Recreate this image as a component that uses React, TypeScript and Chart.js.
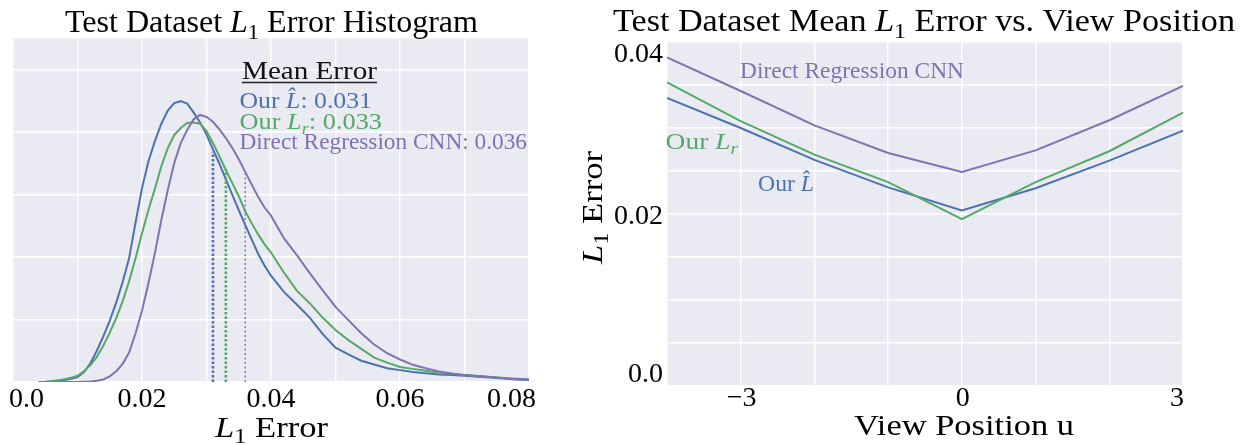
import React, { useEffect, useRef } from "react";
import { Chart, registerables } from "chart.js";

Chart.register(...registerables);

// ---------- colours ----------
const BLUE = "#4C72B0";
const GREEN = "#55A868";
const PURPLE = "#8172B2";
const PANEL_BG = "#EAEAF2";
const FAMILY = '"Liberation Serif", "DejaVu Serif", serif';

// ---------- left panel data (histogram curves) ----------
const errorX = [
  0.004, 0.005, 0.006, 0.007, 0.008, 0.009, 0.01, 0.011, 0.012, 0.013,
  0.014, 0.015, 0.016, 0.017, 0.018, 0.019, 0.02, 0.021, 0.022, 0.023,
  0.024, 0.025, 0.026, 0.027, 0.028, 0.029, 0.03, 0.031, 0.032, 0.033,
  0.034, 0.035, 0.036, 0.037, 0.038, 0.039, 0.04, 0.042, 0.044, 0.046,
  0.048, 0.05, 0.052, 0.054, 0.056, 0.058, 0.06, 0.062, 0.064, 0.066,
  0.068, 0.07, 0.072, 0.074, 0.076, 0.078, 0.08,
];
const densityOurLhat = [
  0, 0, 0.05, 0.15, 0.3, 0.5, 0.8, 1.6, 3.0, 5.0,
  7.3, 9.8, 12.7, 16.0, 19.8, 25.5, 31.0, 35.3, 38.5, 41.3,
  43.4, 44.6, 44.9, 44.5, 43.1, 41.5, 39.6, 37.2, 34.9, 32.4,
  29.9, 27.5, 25.1, 22.8, 20.5, 18.6, 17.0, 14.4, 12.4, 10.3,
  7.7, 5.5, 4.4, 3.4, 2.8, 2.2, 1.9, 1.6, 1.4, 1.2,
  1.1, 1.0, 0.85, 0.7, 0.55, 0.4, 0.3,
];
const densityOurLr = [
  0, 0.05, 0.15, 0.3, 0.45, 0.7, 1.0, 1.7, 2.7, 4.0,
  5.8, 7.9, 10.2, 12.9, 16.1, 19.8, 23.8, 27.5, 30.9, 34.5,
  37.4, 39.5, 40.6, 41.4, 41.5, 41.3, 40.1, 38.2, 36.1, 33.9,
  31.8, 29.7, 27.3, 25.4, 23.6, 22.0, 20.7, 17.5, 14.6, 12.6,
  10.3, 8.3, 6.7, 5.3, 3.9, 3.1, 2.4, 2.1, 1.8, 1.5,
  1.3, 1.1, 0.95, 0.8, 0.65, 0.5, 0.4,
];
const densityDirectCNN = [
  0, 0, 0, 0, 0, 0, 0, 0.05, 0.1, 0.2,
  0.4, 0.9, 1.7, 2.9, 4.7, 7.8, 11.4, 15.8, 20.6, 25.9,
  30.7, 35.0, 38.2, 40.3, 42.0, 42.7, 42.4, 41.6, 40.4, 39.0,
  37.4, 35.6, 33.6, 31.6, 29.6, 27.9, 26.6, 23.0, 20.3, 17.4,
  14.7, 12.0, 9.9, 7.8, 6.0, 4.6, 3.6, 2.75, 2.2, 1.7,
  1.35, 1.1, 0.95, 0.8, 0.65, 0.5, 0.4,
];
const meanErrors = [0.031, 0.033, 0.036];
const meanLineTops = [36.8, 34.0, 33.6];
const meanErrorLabels = ["0.031", "0.033", "0.036"];
const histXTicks = [0, 0.02, 0.04, 0.06, 0.08];
const histXTickLabels = ["0.0", "0.02", "0.04", "0.06", "0.08"];

// ---------- right panel data ----------
const viewPositions = [-4, -3, -2, -1, 0, 1, 2, 3];
const viewDirectCNN = [0.0382, 0.0343, 0.0303, 0.0271, 0.0249, 0.0274, 0.0309, 0.0349];
const viewOurLr = [0.0353, 0.0308, 0.0269, 0.0237, 0.0194, 0.0237, 0.0273, 0.0318];
const viewOurLhat = [0.0335, 0.03, 0.0263, 0.0231, 0.0204, 0.023, 0.0262, 0.0297];
const viewXTicks = [-3, 0, 3];
const viewXTickLabels = ["\u22123", "0", "3"];
const viewYTicks = [0, 0.02, 0.04];
const viewYTickLabels = ["0.0", "0.02", "0.04"];

// ---------- rich text helper ----------
type Seg = { t: string; it?: boolean; sub?: boolean };

function fontFor(seg: Seg, size: number) {
  const s = seg.sub ? size * 0.7 : size;
  return `${seg.it ? "italic " : ""}${s}px ${FAMILY}`;
}

function drawRich(
  ctx: CanvasRenderingContext2D,
  segs: Seg[],
  x: number,
  y: number,
  size: number,
  color: string,
  align: "left" | "center" | "right",
  targetWidth?: number
) {
  let w = 0;
  for (const s of segs) {
    ctx.font = fontFor(s, size);
    w += ctx.measureText(s.t).width;
  }
  const sx = targetWidth ? targetWidth / w : 1;
  const total = w * sx;
  const start = align === "left" ? x : align === "right" ? x - total : x - total / 2;
  ctx.save();
  ctx.translate(start, y);
  ctx.scale(sx, 1);
  ctx.fillStyle = color;
  ctx.textAlign = "left";
  ctx.textBaseline = "alphabetic";
  let cx = 0;
  for (const s of segs) {
    ctx.font = fontFor(s, size);
    ctx.fillText(s.t, cx, s.sub ? size * 0.22 : 0);
    cx += ctx.measureText(s.t).width;
  }
  ctx.restore();
  return { start, total };
}

const L1: Seg[] = [{ t: "L", it: true }, { t: "1", sub: true }];
const LHAT: Seg[] = [{ t: "L\u0302", it: true }];
const LR: Seg[] = [{ t: "L", it: true }, { t: "r", it: true, sub: true }];

const bgPlugin = {
  id: "panelBg",
  beforeDraw(chart: any) {
    const { ctx, chartArea: a } = chart;
    ctx.save();
    ctx.fillStyle = PANEL_BG;
    ctx.fillRect(a.left, a.top, a.right - a.left, a.bottom - a.top);
    ctx.restore();
  },
};

const leftTextPlugin = {
  id: "leftText",
  afterDraw(chart: any) {
    const ctx: CanvasRenderingContext2D = chart.ctx;
    const xs = chart.scales.x;
    ctx.save();
    // title
    drawRich(ctx, [{ t: "Test Dataset " }, ...L1, { t: " Error Histogram" }], 65, 32, 31, "#000", "left", 413);
    // x tick labels
    histXTicks.forEach((v, i) => {
      const px = xs.getPixelForValue(v);
      const last = histXTicks.length - 1;
      if (i === 0) drawRich(ctx, [{ t: histXTickLabels[i] }], px - 4, 407, 28, "#000", "left");
      else if (i === last) drawRich(ctx, [{ t: histXTickLabels[i] }], px + 7, 407, 28, "#000", "right");
      else drawRich(ctx, [{ t: histXTickLabels[i] }], px, 407, 28, "#000", "center");
    });
    // x title
    drawRich(ctx, [...L1, { t: " Error" }], 215, 437, 29, "#000", "left", 113);
    // annotation block
    const m = drawRich(ctx, [{ t: "Mean Error" }], 242, 79, 25, "#111", "left", 135);
    ctx.strokeStyle = "#222";
    ctx.lineWidth = 1.3;
    ctx.beginPath();
    ctx.moveTo(m.start, 82.5);
    ctx.lineTo(m.start + m.total, 82.5);
    ctx.stroke();
    drawRich(ctx, [{ t: "Our " }, ...LHAT, { t: ": " + meanErrorLabels[0] }], 239.5, 107.5, 23, BLUE, "left", 132.5);
    drawRich(ctx, [{ t: "Our " }, ...LR, { t: ": " + meanErrorLabels[1] }], 239.5, 128.5, 23, GREEN, "left", 142.5);
    drawRich(ctx, [{ t: "Direct Regression CNN: " + meanErrorLabels[2] }], 239.5, 149, 23, PURPLE, "left", 287.5);
    ctx.restore();
  },
};

const rightTextPlugin = {
  id: "rightText",
  afterDraw(chart: any) {
    const ctx: CanvasRenderingContext2D = chart.ctx;
    const xs = chart.scales.x;
    const ys = chart.scales.y;
    const area = chart.chartArea;
    ctx.save();
    drawRich(ctx, [{ t: "Test Dataset Mean " }, ...L1, { t: " Error vs. View Position" }], 53, 31, 31, "#000", "left", 622);
    // x ticks
    viewXTicks.forEach((v, i) => {
      const px = xs.getPixelForValue(v);
      if (i === viewXTicks.length - 1) drawRich(ctx, [{ t: viewXTickLabels[i] }], px + 1, 406, 28, "#000", "right");
      else drawRich(ctx, [{ t: viewXTickLabels[i] }], px + 1, 406, 28, "#000", "center");
    });
    // y ticks
    viewYTicks.forEach((v, i) => {
      const py = ys.getPixelForValue(v);
      let base = py + 10;
      if (i === 0) base = py - 4;
      else if (i === viewYTicks.length - 1) base = py + 20;
      drawRich(ctx, [{ t: viewYTickLabels[i] }], area.left - 4, base, 28, "#000", "right");
    });
    // x title
    drawRich(ctx, [{ t: "View Position u" }], 294, 435, 29, "#000", "left", 220);
    // y title (rotated)
    ctx.save();
    ctx.translate(42, 207.5);
    ctx.rotate(-Math.PI / 2);
    drawRich(ctx, [...L1, { t: " Error" }], 0, 0, 29, "#000", "center", 113);
    ctx.restore();
    // inline labels
    drawRich(ctx, [{ t: "Direct Regression CNN" }], 180, 78, 23, PURPLE, "left", 224);
    drawRich(ctx, [{ t: "Our " }, ...LR], 105.6, 149, 23, GREEN, "left", 72.4);
    drawRich(ctx, [{ t: "Our " }, ...LHAT], 198, 191, 23, BLUE, "left", 56);
    ctx.restore();
  },
};

const gridCommon = { color: "#FFFFFF", lineWidth: 1.4, drawTicks: false };

function LeftChart() {
  const ref = useRef<HTMLCanvasElement | null>(null);
  useEffect(() => {
    if (!ref.current) return;
    const pts = (ys: number[]) => errorX.map((x, i) => ({ x, y: ys[i] }));
    const meanLine = (i: number) => [
      { x: meanErrors[i], y: 0 },
      { x: meanErrors[i], y: meanLineTops[i] },
    ];
    const chart = new Chart(ref.current, {
      type: "line",
      data: {
        datasets: [
          { data: meanLine(0), borderColor: BLUE, borderWidth: 2.6, borderDash: [2.5, 2], pointRadius: 0 },
          { data: meanLine(1), borderColor: GREEN, borderWidth: 2.6, borderDash: [2.5, 2], pointRadius: 0 },
          { data: meanLine(2), borderColor: PURPLE, borderWidth: 1.4, borderDash: [2, 2.5], pointRadius: 0 },
          { data: pts(densityDirectCNN), borderColor: PURPLE, borderWidth: 2, pointRadius: 0, tension: 0 },
          { data: pts(densityOurLr), borderColor: GREEN, borderWidth: 2, pointRadius: 0, tension: 0 },
          { data: pts(densityOurLhat), borderColor: BLUE, borderWidth: 2, pointRadius: 0, tension: 0 },
        ] as any,
      },
      options: {
        responsive: false,
        animation: false,
        devicePixelRatio: 1,
        layout: { padding: { left: 13, top: 38, right: 31, bottom: 63 } },
        plugins: { legend: { display: false }, tooltip: { enabled: false }, title: { display: false } },
        scales: {
          x: {
            type: "linear",
            min: 0,
            max: 0.08,
            ticks: { display: false, stepSize: 0.01 },
            grid: gridCommon,
            border: { display: false },
          },
          y: {
            type: "linear",
            min: 0,
            max: 55,
            ticks: { display: false, stepSize: 10 },
            grid: gridCommon,
            border: { display: false },
          },
        },
      } as any,
      plugins: [bgPlugin, leftTextPlugin],
    });
    return () => chart.destroy();
  }, []);
  return <canvas ref={ref} width={560} height={445} style={{ position: "absolute", left: 0, top: 0, width: 560, height: 445 }} />;
}

function RightChart() {
  const ref = useRef<HTMLCanvasElement | null>(null);
  useEffect(() => {
    if (!ref.current) return;
    const pts = (ys: number[]) => viewPositions.map((x, i) => ({ x, y: ys[i] }));
    const chart = new Chart(ref.current, {
      type: "line",
      data: {
        datasets: [
          { data: pts(viewDirectCNN), borderColor: PURPLE, borderWidth: 2, pointRadius: 0, tension: 0 },
          { data: pts(viewOurLr), borderColor: GREEN, borderWidth: 2, pointRadius: 0, tension: 0 },
          { data: pts(viewOurLhat), borderColor: BLUE, borderWidth: 2, pointRadius: 0, tension: 0 },
        ] as any,
      },
      options: {
        responsive: false,
        animation: false,
        devicePixelRatio: 1,
        layout: { padding: { left: 107, top: 42, right: 67, bottom: 59 } },
        plugins: { legend: { display: false }, tooltip: { enabled: false }, title: { display: false } },
        scales: {
          x: {
            type: "linear",
            min: -4,
            max: 3,
            ticks: { display: false, stepSize: 1 },
            grid: gridCommon,
            border: { display: false },
          },
          y: {
            type: "linear",
            min: 0,
            max: 0.04,
            ticks: { display: false, stepSize: 0.005 },
            grid: gridCommon,
            border: { display: false },
          },
        },
      } as any,
      plugins: [bgPlugin, rightTextPlugin],
    });
    return () => chart.destroy();
  }, []);
  return <canvas ref={ref} width={690} height={445} style={{ position: "absolute", left: 560, top: 0, width: 690, height: 445 }} />;
}

export default function App() {
  return (
    <div style={{ position: "absolute", left: 0, top: 0, width: 1250, height: 445, background: "#fff", overflow: "hidden" }}>
      <LeftChart />
      <RightChart />
    </div>
  );
}
